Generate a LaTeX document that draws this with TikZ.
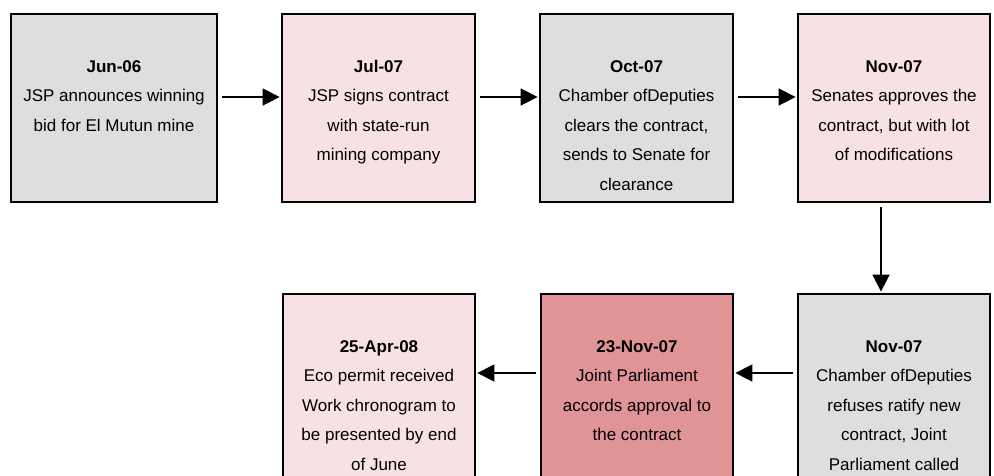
\documentclass[tikz,border=0pt]{standalone}
\usepackage{fontspec}
\setmainfont{Liberation Sans}
\usetikzlibrary{arrows.meta}
\definecolor{greybox}{RGB}{221,222,224}
\definecolor{pinkbox}{RGB}{248,225,228}
\definecolor{redbox}{RGB}{224,148,150}
\newcommand{\evt}[3]{\parbox[t][188pt][t]{#1}{\centering\rule{0pt}{58pt}\textbf{#2}\\#3}}
\begin{document}
\begin{tikzpicture}[x=1pt,y=-1pt,
    event/.style={draw=black,line width=2.8pt,inner sep=0pt,
      font=\fontsize{17pt}{29.5pt}\selectfont},
    arr/.style={line width=1.6pt,-{Triangle[length=17pt,width=17pt]},
      shorten <=4pt,shorten >=1pt}]
  \useasboundingbox (0,0) rectangle (994,475);
  \clip (0,0) rectangle (994,475);
  \node[event,fill=greybox] (jun06) at (114,108)
    {\evt{206pt}{Jun-06}{JSP announces winning\\bid for El Mutun mine}};
  \node[event,fill=pinkbox] (jul07) at (378.5,108)
    {\evt{193pt}{Jul-07}{JSP signs contract\\with state-run\\mining company}};
  \node[event,fill=greybox] (oct07) at (636.5,108)
    {\evt{193pt}{Oct-07}{Chamber ofDeputies\\clears the contract,\\sends to Senate for\\clearance}};
  \node[event,fill=pinkbox] (nov07) at (894,108)
    {\evt{192pt}{Nov-07}{Senates approves the\\contract, but with lot\\of modifications}};
  \node[event,fill=greybox] (nov07b) at (894,388)
    {\evt{192pt}{Nov-07}{Chamber ofDeputies\\refuses ratify new\\contract, Joint\\Parliament called}};
  \node[event,fill=redbox] (nov23) at (637,388)
    {\evt{192pt}{23-Nov-07}{Joint Parliament\\accords approval to\\the contract}};
  \node[event,fill=pinkbox] (apr25) at (379,388)
    {\evt{192pt}{25-Apr-08}{Eco permit received\\Work chronogram to\\be presented by end\\of June}};
  \draw[arr] ([yshift=11pt]jun06.east) -- ([yshift=11pt]jul07.west);
  \draw[arr] ([yshift=11pt]jul07.east) -- ([yshift=11pt]oct07.west);
  \draw[arr] ([yshift=11pt]oct07.east) -- ([yshift=11pt]nov07.west);
  \draw[arr] ([xshift=-13pt]nov07.south) -- ([xshift=-13pt]nov07b.north);
  \draw[arr] ([yshift=15pt]nov07b.west) -- ([yshift=15pt]nov23.east);
  \draw[arr] ([yshift=15pt]nov23.west) -- ([yshift=15pt]apr25.east);
\end{tikzpicture}
\end{document}
